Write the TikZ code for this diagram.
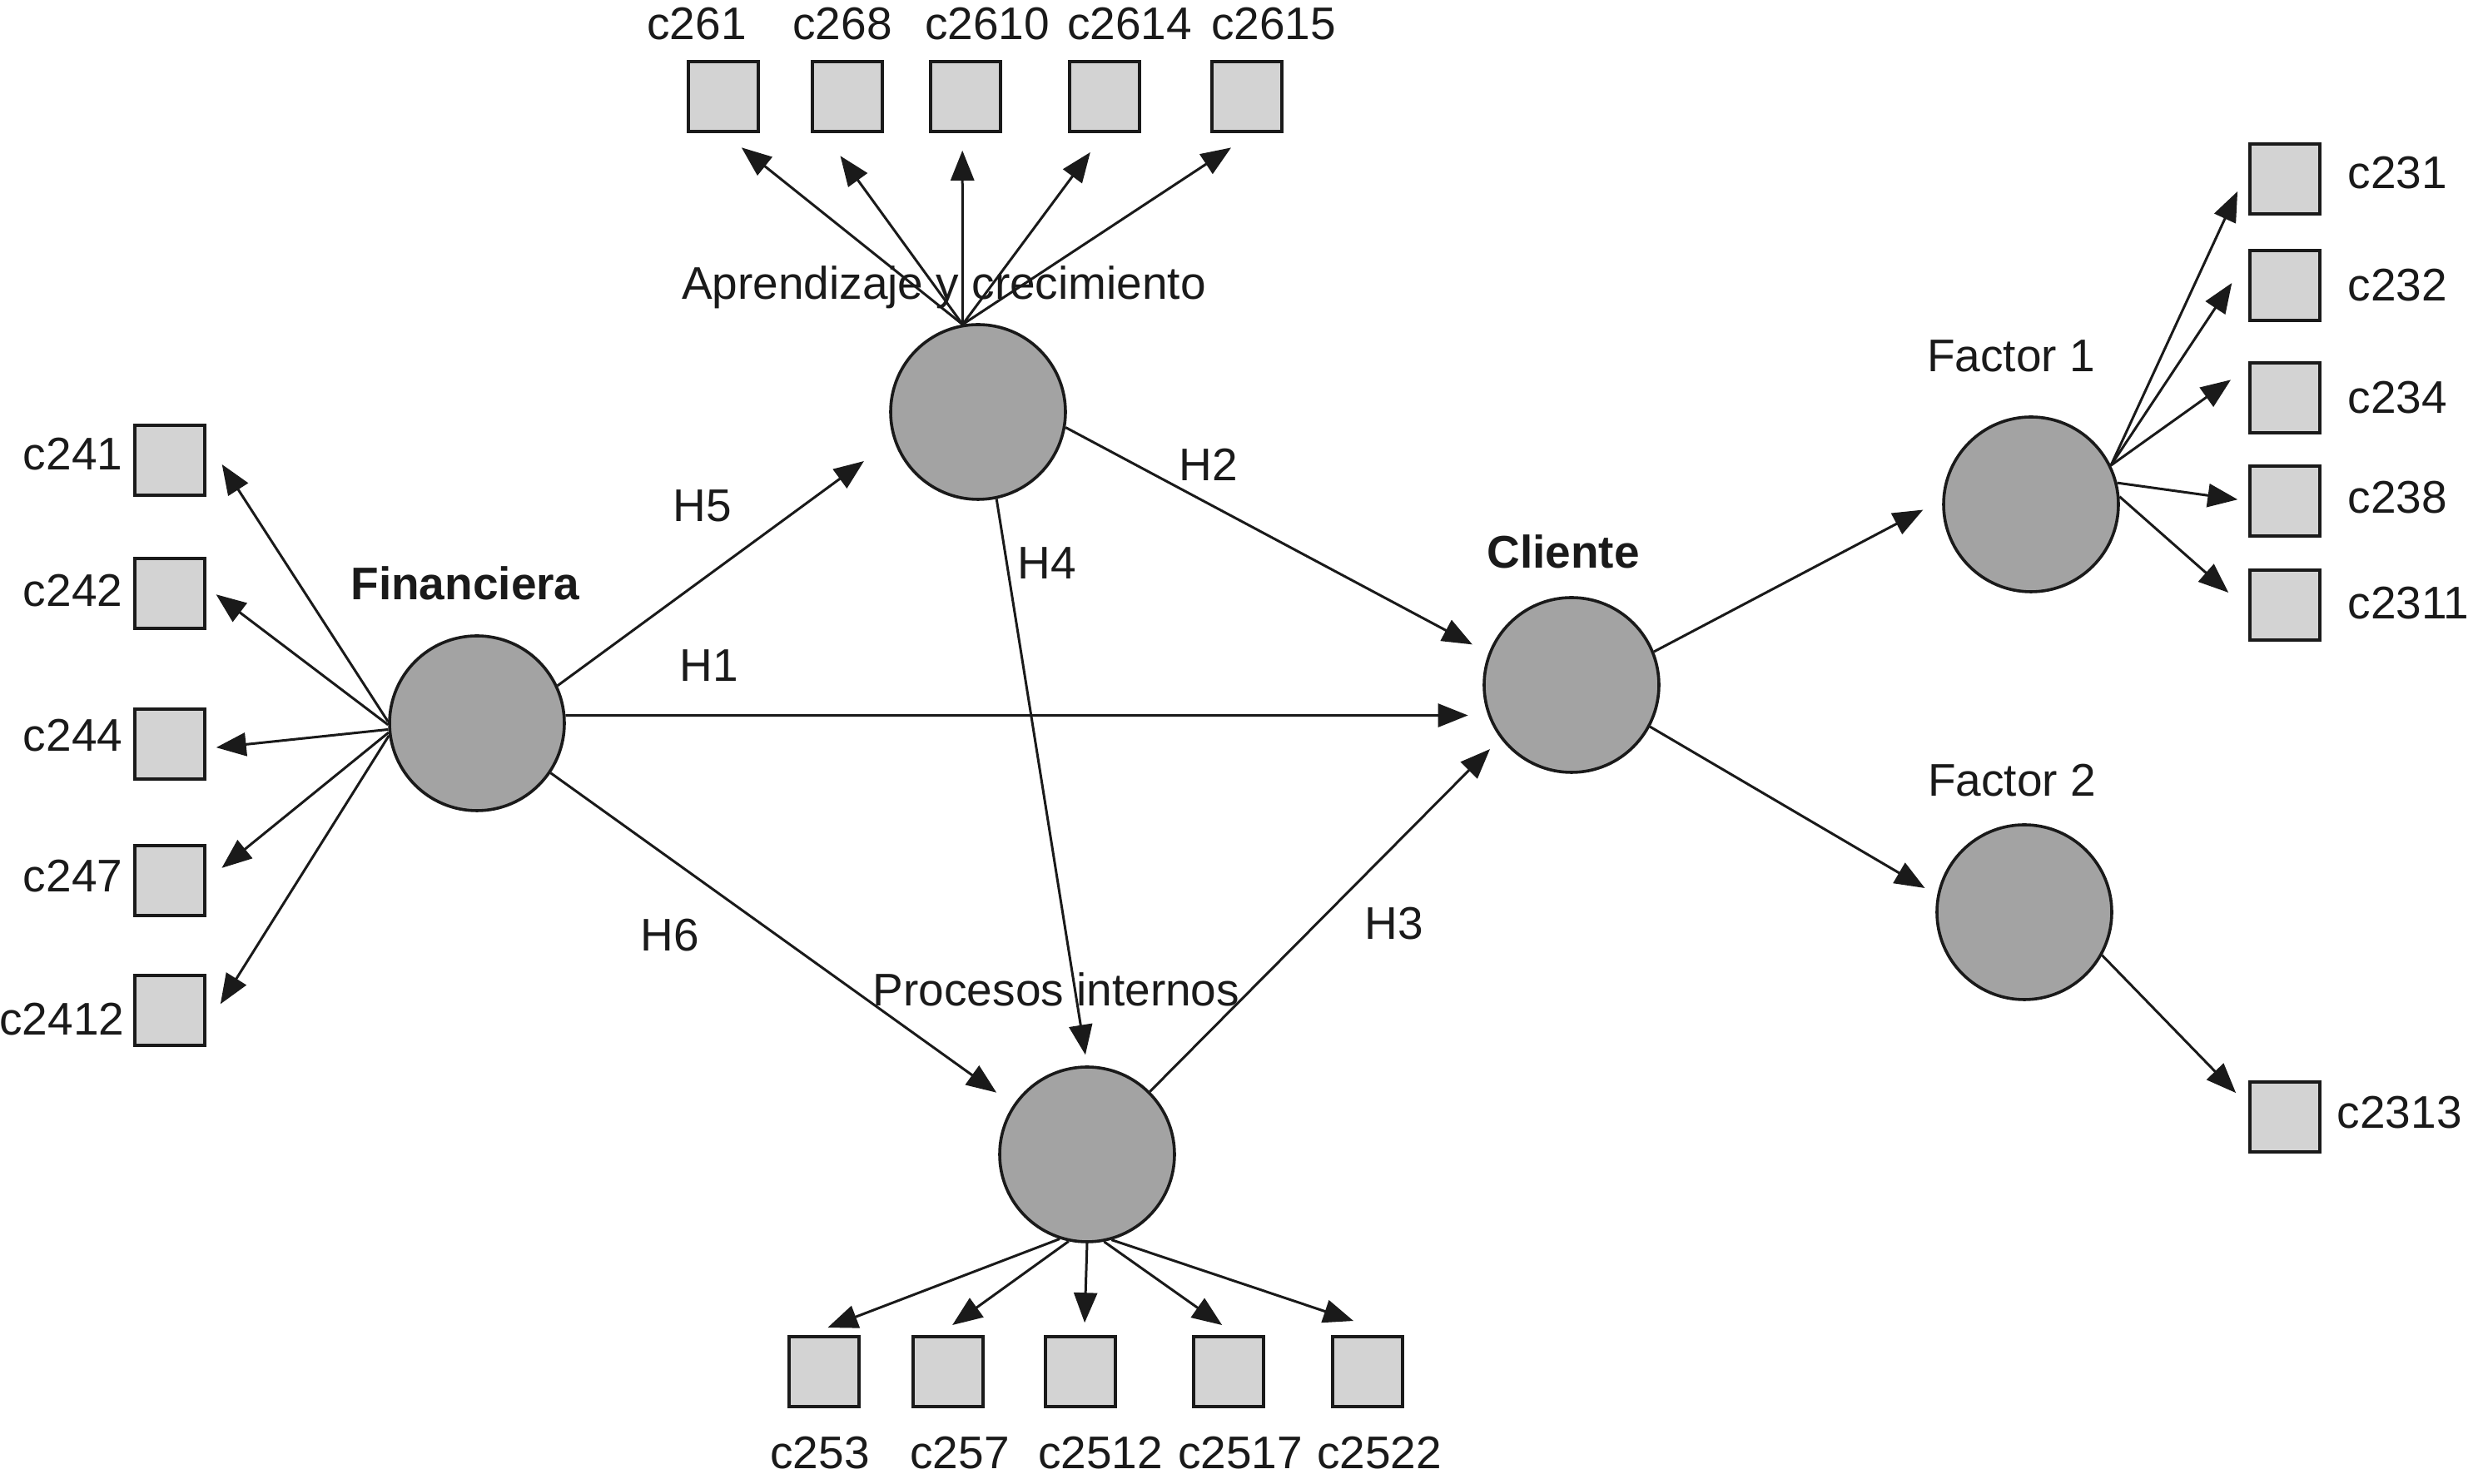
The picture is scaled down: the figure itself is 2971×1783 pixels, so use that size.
\documentclass[tikz,border=0pt]{standalone}
\usepackage{fontspec}
\setmainfont{Liberation Sans}
\usetikzlibrary{arrows.meta}
\definecolor{cgray}{HTML}{A3A3A3}
\definecolor{sgray}{HTML}{D3D3D3}
\definecolor{ink}{HTML}{1A1A1A}
\tikzset{
  lv/.style={circle, draw=ink, line width=0.9pt, fill=cgray, minimum size=52.5pt, inner sep=0pt},
  ind/.style={rectangle, draw=ink, line width=0.9pt, fill=sgray, minimum size=21pt, inner sep=0pt},
  lbl/.style={font=\fontsize{13.75}{16}\selectfont, inner sep=0pt, anchor=base, text=ink},
  blbl/.style={lbl, font=\fontsize{13.75}{16}\selectfont\bfseries},
  arr/.style={draw=ink, line width=0.75pt, -{Triangle[length=9pt,width=7pt]}},
}
\begin{document}
\begin{tikzpicture}[x=0.25pt,y=-0.25pt]
\useasboundingbox (0,0) rectangle (2971,1783);
% latent variables
\node[lv] (fin) at (573,869) {};
\node[lv] (apr) at (1175,495) {};
\node[lv] (cli) at (1888,823) {};
\node[lv] (pro) at (1306,1387) {};
\node[lv] (fa1) at (2440,606) {};
\node[lv] (fa2) at (2432,1096) {};
% latent labels
\node[blbl] (tfin) at (559,721) {Financiera};
\node[blbl] (tcli) at (1878,683) {Cliente};
\node[lbl] (tapr) at (1134,360) {Aprendizaje y crecimiento};
\node[lbl] (tpro) at (1269,1209) {Procesos internos};
\node[lbl] (tfa1) at (2416,447) {Factor 1};
\node[lbl] (tfa2) at (2417,957) {Factor 2};
% left indicators
\node[ind] (c241) at (204,553) {};
\node[ind] (c242) at (204,713) {};
\node[ind] (c244) at (204,894) {};
\node[ind] (c247) at (204,1058) {};
\node[ind] (c2412) at (204,1214) {};
\node[lbl, anchor=base east] (t241) at (148,565) {c241};
\node[lbl, anchor=base east] (t242) at (148,729) {c242};
\node[lbl, anchor=base east] (t244) at (148,903) {c244};
\node[lbl, anchor=base east] (t247) at (148,1072) {c247};
\node[lbl, anchor=base east] (t2412) at (150,1244) {c2412};
% top indicators
\node[ind] (c261) at (869,116) {};
\node[ind] (c268) at (1018,116) {};
\node[ind] (c2610) at (1160,116) {};
\node[ind] (c2614) at (1327,116) {};
\node[ind] (c2615) at (1498,116) {};
\node[lbl] (t261) at (837,48) {c261};
\node[lbl] (t268) at (1012,48) {c268};
\node[lbl] (t2610) at (1186,48) {c2610};
\node[lbl] (t2614) at (1357,48) {c2614};
\node[lbl] (t2615) at (1530,48) {c2615};
% bottom indicators
\node[ind] (c253) at (990,1648) {};
\node[ind] (c257) at (1139,1648) {};
\node[ind] (c2512) at (1298,1648) {};
\node[ind] (c2517) at (1476,1648) {};
\node[ind] (c2522) at (1643,1648) {};
\node[lbl] (t253) at (985,1765) {c253};
\node[lbl] (t257) at (1153,1765) {c257};
\node[lbl] (t2512) at (1322,1765) {c2512};
\node[lbl] (t2517) at (1490,1765) {c2517};
\node[lbl] (t2522) at (1657,1765) {c2522};
% right indicators
\node[ind] (c231) at (2745,215) {};
\node[ind] (c232) at (2745,343) {};
\node[ind] (c234) at (2745,478) {};
\node[ind] (c238) at (2745,602) {};
\node[ind] (c2311) at (2745,727) {};
\node[ind] (c2313) at (2745,1342) {};
\node[lbl, anchor=base west] (t231) at (2820,227) {c231};
\node[lbl, anchor=base west] (t232) at (2820,362) {c232};
\node[lbl, anchor=base west] (t234) at (2820,497) {c234};
\node[lbl, anchor=base west] (t238) at (2820,617) {c238};
\node[lbl, anchor=base west] (t2311) at (2820,744) {c2311};
\node[lbl, anchor=base west] (t2313) at (2807,1356) {c2313};
% hypothesis labels
\node[lbl] (h5) at (844,627) {H5};
\node[lbl] (h2) at (1452,578) {H2};
\node[lbl] (h4) at (1258,696) {H4};
\node[lbl] (h1) at (852,819) {H1};
\node[lbl] (h6) at (805,1143) {H6};
\node[lbl] (h3) at (1675,1129) {H3};
% structural paths
\draw[arr, shorten >=11pt] (fin.25) -- (apr.198);
\draw[arr, shorten >=5.5pt] (apr.-10) -- (cli.159);
\draw[arr, shorten >=6pt] (fin.5) -- (cli.200);
\draw[arr, shorten >=3.25pt] (apr.-78) -- (pro.90);
\draw[arr, shorten >=6.25pt] (fin.-34) -- (pro.146);
\draw[arr, shorten >=4.5pt] (pro.45) -- (cli.217);
\draw[arr, shorten >=6.5pt] (cli.22) -- (fa1.177);
\draw[arr, shorten >=4.25pt] (cli.-28) -- (fa2.169);
% left loadings
\draw[arr, shorten >=8.7pt] (fin.179) -- (c241.29);
\draw[arr, shorten >=3.7pt] (fin.181) -- (c242.10);
\draw[arr, shorten >=3pt] (fin.184) -- (c244.-7);
\draw[arr, shorten >=6pt] (fin.186) -- (c247.east);
\draw[arr, shorten >=8pt] (fin.188) -- (c2412.-24);
% top loadings
\draw[arr, shorten >=7pt] (apr.100) -- (c261.south);
\draw[arr, shorten >=8.5pt] (apr.100) -- (c268.237);
\draw[arr, shorten >=5.25pt] (apr.100) -- (c2610.-95);
\draw[arr, shorten >=7.2pt] (apr.100) -- (c2614.south);
\draw[arr, shorten >=8pt] (apr.100) -- (c2615.-80);
% bottom loadings
\draw[arr, shorten >=6.4pt] (pro.252) -- (c253.114);
\draw[arr, shorten >=5.2pt] (pro.258) -- (c257.105);
\draw[arr, shorten >=3.75pt] (pro.270) -- (c2512.84);
\draw[arr, shorten >=5.25pt] (pro.281) -- (c2517.78);
\draw[arr, shorten >=13.5pt] (pro.286) -- (c2522.52);
% right loadings
\draw[arr, shorten >=7.8pt] (fa1.26) -- (c231.163);
\draw[arr, shorten >=9pt] (fa1.26) -- (c232.143);
\draw[arr, shorten >=6.5pt] (fa1.26) -- (c234.140);
\draw[arr, shorten >=3.25pt] (fa1.14) -- (c238.west);
\draw[arr, shorten >=8pt] (fa1.5) -- (c2311.188);
\draw[arr, shorten >=5.4pt] (fa2.-29) -- (c2313.163);
\end{tikzpicture}
\end{document}
